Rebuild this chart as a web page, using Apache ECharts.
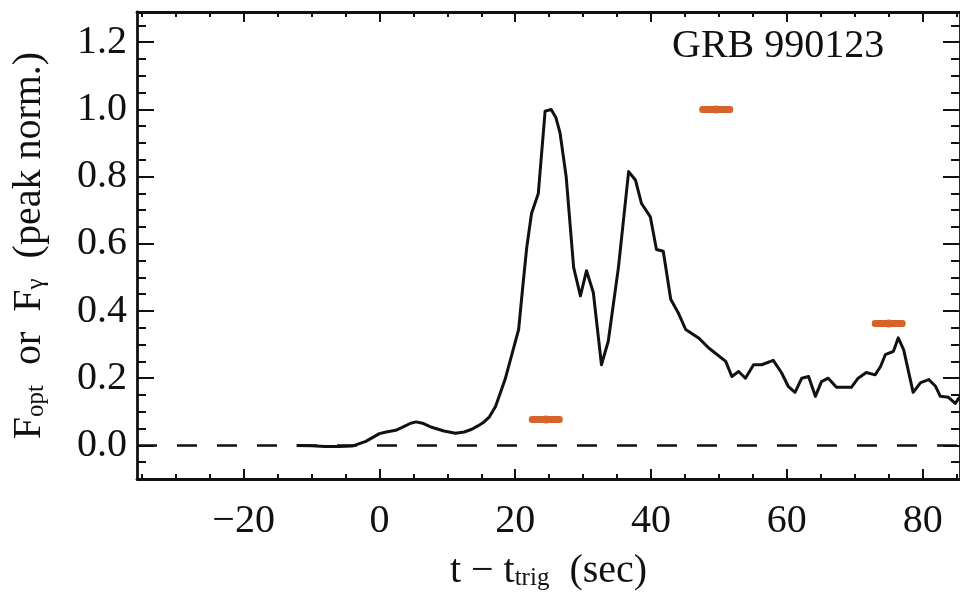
<!DOCTYPE html>
<html>
<head>
<meta charset="utf-8">
<script src="https://cdn.jsdelivr.net/npm/echarts@6/dist/echarts.min.js"></script>
<style>
html,body{margin:0;padding:0;background:#fff;}
#c{width:960px;height:602px;}
</style>
</head>
<body>
<div id="c"></div>
<script>
// gamma-ray light curve (peak normalised)
const timeSec = [-12.2, -10, -8, -6, -4, -2, 0, 1, 2.4, 3.5, 4.6, 5.4, 6.5, 7.7, 9.5, 11.2, 12.5, 13.6, 14.5, 15.3, 16.2, 17.1, 18.5, 19.5, 20.5, 21.1, 21.7, 22.4, 23.4, 24.4, 25.3, 26.0, 26.6, 27.5, 28.6, 29.6, 30.5, 31.5, 32.7, 33.7, 35.2, 36.7, 37.7, 38.6, 39.9, 40.8, 41.8, 42.9, 44.0, 45.1, 47.0, 48.5, 51.0, 51.9, 52.9, 53.9, 55.1, 56.3, 58.0, 59.2, 60.2, 61.2, 62.2, 63.2, 64.2, 65.1, 66.1, 67.3, 69.5, 70.5, 71.7, 73.0, 73.8, 74.5, 75.7, 76.4, 77.2, 78.6, 79.7, 80.9, 81.9, 82.6, 83.8, 84.8, 85.5];
const gammaFlux = [0.0, -0.001, -0.003, -0.003, -0.002, 0.012, 0.035, 0.04, 0.045, 0.055, 0.066, 0.07, 0.065, 0.054, 0.043, 0.036, 0.04, 0.048, 0.058, 0.068, 0.085, 0.116, 0.196, 0.27, 0.345, 0.47, 0.59, 0.69, 0.75, 0.995, 1.0, 0.975, 0.93, 0.8, 0.53, 0.445, 0.52, 0.455, 0.24, 0.31, 0.53, 0.815, 0.79, 0.72, 0.68, 0.583, 0.578, 0.435, 0.395, 0.345, 0.32, 0.29, 0.25, 0.205, 0.22, 0.2, 0.24, 0.24, 0.253, 0.217, 0.176, 0.158, 0.2, 0.205, 0.146, 0.19, 0.2, 0.173, 0.173, 0.2, 0.217, 0.21, 0.235, 0.27, 0.28, 0.32, 0.285, 0.158, 0.187, 0.196, 0.176, 0.146, 0.143, 0.125, 0.145];

// optical points (time span and flux)
const optStart = [22.0, 47.1, 72.5];
const optEnd   = [27.0, 52.1, 77.5];
const optFlux  = [0.077, 1.0, 0.363];

// ticks
const xTickValues = [-20, 0, 20, 40, 60, 80];
const xMinorValues = [-35, -30, -25, -15, -10, -5, 5, 10, 15, 25, 30, 35, 45, 50, 55, 65, 70, 75, 85];
const yTickValues = [0.0, 0.2, 0.4, 0.6, 0.8, 1.0, 1.2];
const yMinorValues = [-0.05, 0.05, 0.1, 0.15, 0.25, 0.3, 0.35, 0.45, 0.5, 0.55, 0.65, 0.7, 0.75, 0.85, 0.9, 0.95, 1.05, 1.1, 1.15, 1.25];

const X_MIN = -35.7, X_MAX = 85.5, Y_MIN = -0.1, Y_MAX = 1.29;
const FONT = '"Liberation Serif", "DejaVu Serif", serif';
const INK = '#111';
const ORANGE = '#d6642a';

const chart = echarts.init(document.getElementById('c'), null, {renderer: 'canvas'});

function xAxisDef(pos, major, withLabels) {
  return {
    type: 'value', position: pos, min: X_MIN, max: X_MAX,
    axisLine: {show: major, onZero: false, lineStyle: {color: INK, width: 2.8}},
    axisTick: {show: true, inside: true, length: major ? 10 : 5, customValues: major ? xTickValues : xMinorValues, lineStyle: {color: INK, width: 2}},
    axisLabel: withLabels ? {
      show: true, customValues: xTickValues, margin: 22,
      fontFamily: FONT, fontSize: 40, color: INK,
      formatter: v => (v < 0 ? '\u2212' + Math.abs(v) : String(v))
    } : {show: false},
    splitLine: {show: false}
  };
}
function yAxisDef(pos, major, withLabels) {
  return {
    type: 'value', position: pos, min: Y_MIN, max: Y_MAX,
    axisLine: {show: major, onZero: false, lineStyle: {color: INK, width: 2.8}},
    axisTick: {show: true, inside: true, length: major ? 17 : 9, customValues: major ? yTickValues : yMinorValues, lineStyle: {color: INK, width: 2}},
    axisLabel: withLabels ? {
      show: true, customValues: yTickValues, margin: 10,
      fontFamily: FONT, fontSize: 40, color: INK,
      formatter: v => v.toFixed(1)
    } : {show: false},
    splitLine: {show: false}
  };
}

const xMain = xAxisDef('bottom', true, true);
xMain.name = '{m|t \u2212 t}{s|trig}{m|  (sec)}';
xMain.nameLocation = 'middle';
xMain.nameGap = 68;
xMain.nameTextStyle = {
  rich: {
    m: {fontFamily: FONT, fontSize: 40, color: INK, lineHeight: 44, verticalAlign: 'bottom'},
    s: {fontFamily: FONT, fontSize: 25, color: INK, lineHeight: 10, verticalAlign: 'bottom'}
  }
};

const yMain = yAxisDef('left', true, true);
yMain.name = '{m|F}{s|opt}{m|  or  F}{s|\u03b3}{m|  (peak norm.)}';
yMain.nameLocation = 'middle';
yMain.nameRotate = 90;
yMain.nameGap = 88;
yMain.nameTextStyle = {
  rich: {
    m: {fontFamily: FONT, fontSize: 40, color: INK, lineHeight: 44, verticalAlign: 'bottom'},
    s: {fontFamily: FONT, fontSize: 25, color: INK, lineHeight: 10, verticalAlign: 'bottom'}
  }
};

const option = {
  animation: false,
  backgroundColor: '#fff',
  title: {
    text: 'GRB 990123', left: 672, top: 26, padding: 0,
    textStyle: {fontFamily: FONT, fontSize: 40, fontWeight: 'normal', color: INK}
  },
  grid: {left: 137, top: 12, width: 823, height: 467, containLabel: false},
  xAxis: [xMain, xAxisDef('bottom', false, false), xAxisDef('top', true, false), xAxisDef('top', false, false)],
  yAxis: [yMain, yAxisDef('left', false, false), yAxisDef('right', true, false), yAxisDef('right', false, false)],
  series: [
    {
      type: 'line', xAxisIndex: 0, yAxisIndex: 0,
      data: timeSec.map((t, i) => [t, gammaFlux[i]]),
      showSymbol: false, symbol: 'none',
      lineStyle: {color: INK, width: 3, join: 'round'},
      z: 3,
      markLine: {
        silent: true, symbol: 'none', label: {show: false},
        lineStyle: {color: INK, width: 2.5, type: [20, 20]},
        data: [{yAxis: 0}]
      }
    },
    {
      type: 'custom', xAxisIndex: 0, yAxisIndex: 0, z: 4,
      data: optStart.map((s, i) => [s, optEnd[i], optFlux[i]]),
      renderItem: function (params, api) {
        const p0 = api.coord([api.value(0), api.value(2)]);
        const p1 = api.coord([api.value(1), api.value(2)]);
        const mid = api.coord([(api.value(0) + api.value(1)) / 2, api.value(2)]);
        return {
          type: 'group',
          children: [
            {type: 'rect', shape: {x: p0[0], y: p0[1] - 3.5, width: p1[0] - p0[0], height: 7, r: 3}, style: {fill: ORANGE}},
            {type: 'circle', shape: {cx: mid[0], cy: mid[1], r: 4}, style: {fill: ORANGE}}
          ]
        };
      }
    }
  ]
};
chart.setOption(option);
</script>
</body>
</html>
